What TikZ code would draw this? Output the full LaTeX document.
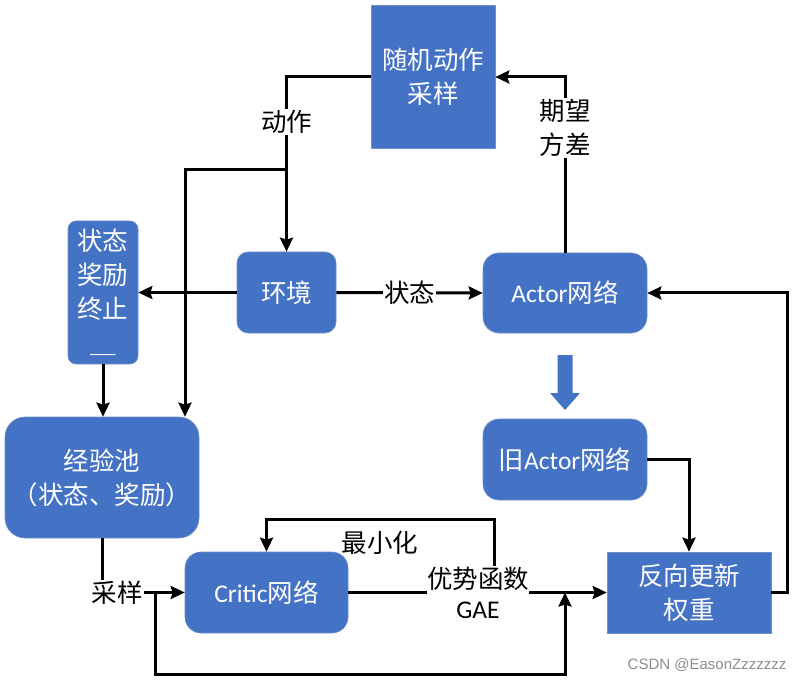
\documentclass[tikz,border=0pt]{standalone}
\usepackage{fontspec}
\usetikzlibrary{arrows.meta}
\setmainfont{Carlito}
\newfontfamily\cjk{Noto Sans CJK SC}
\newfontfamily\lat{Carlito}
\newfontfamily\wmfont{Liberation Sans}
\newcommand\fsz{\fontsize{25.5}{34}\selectfont}
\definecolor{boxblue}{HTML}{4472C4}
\definecolor{boxedge}{HTML}{6F90CC}
\tikzset{
  box/.style={fill=boxblue, draw=boxedge, line width=0.6pt, text=white, align=center,
    font=\fsz\cjk, inner sep=0pt, rounded corners=#1},
  box/.default=14pt,
  lbl/.style={fill=white, inner sep=1pt, align=center, font=\fsz\cjk, text=black},
  conn/.style={line width=3pt, draw=black},
  arr/.style={conn, -{Stealth[length=14pt,width=13pt,inset=2pt]}},
}
\begin{document}
\begin{tikzpicture}[x=1pt,y=-1pt]
\useasboundingbox (0,0) rectangle (807,682);
% nodes
\node[box=0pt, minimum width=124pt, minimum height=143pt] (samp) at (433,77) {随机动作\\采样};
\node[box=11pt, minimum width=99pt, minimum height=81pt] (env) at (286.5,292.5) {环境};
\node[box=16pt, minimum width=164pt, minimum height=80pt] (actor) at (565,293) {{\lat Actor}网络};
\node[box=8pt, minimum width=70pt, minimum height=143pt] (state) at (103,292.5) {状态\\奖励\\终止\\＿};
\node[box=20pt, minimum width=194pt, minimum height=121pt] (pool) at (102,477.5) {经验池\\（状态、奖励）};
\node[box=16pt, minimum width=163pt, minimum height=81pt] (critic) at (266.5,592.5) {{\lat Critic}网络};
\node[box=16pt, minimum width=164pt, minimum height=81pt] (old) at (565,459.5) {旧{\lat Actor}网络};
\node[box=0pt, minimum width=164pt, minimum height=81pt] (upd) at (689,592.5) {反向更新\\权重};

% coordinates
\coordinate (br) at (286.5,170);
\coordinate (brl) at (185,170);
\coordinate (lpA) at (155,592.5);
\coordinate (lpB) at (565,592.5);
\coordinate (mstart) at (494,566);
\coordinate (rturn) at (787,592.5);

% connectors
\draw[arr] (actor.north) |- (samp.east);
\node[lbl] (expv) at (565,128) {期望\\方差};

\draw[arr] (samp.west) -| (env.north);
\node[lbl] (act) at (286.5,122) {动作};

\draw[arr] (br) -- (brl) -- (brl |- pool.north);
\draw[arr] (env.west) -- (state.east);
\draw[arr] (env.east) -- node[lbl] (stl) {状态} (actor.west);
\draw[arr] (state.south) -- (state.south |- pool.north);

\draw[arr] (pool.south) |- (critic.west);
\node[lbl] (sampl) at (117,592.5) {采样};

\draw[arr] (lpA) -- (155,674) -- (565,674) -- (lpB);

\draw[arr] (critic.east) -- (upd.west);
\node[lbl, inner sep=0pt] (gae) at (478,592.5) {优势函数\\[-4pt]{\lat GAE}};

\draw[arr] (mstart) |- (critic.north |- 0,519) -- (critic.north);
\node[font=\fsz\cjk] (minl) at (380,543) {最小化};

\draw[arr] (upd.east) -- (rturn) |- (actor.east);
\draw[arr] (old.east) -| (upd.north);

% big blue arrow
\fill[boxblue] (557.5,355) -- (572.5,355) -- (572.5,393) -- (580,393) -- (565,410)
  -- (550,393) -- (557.5,393) -- cycle;

% watermark
\node[font=\wmfont\fontsize{15}{18}\selectfont, text=black!45] (wm) at (707,665) {CSDN @EasonZzzzzzz};
\end{tikzpicture}
\end{document}
